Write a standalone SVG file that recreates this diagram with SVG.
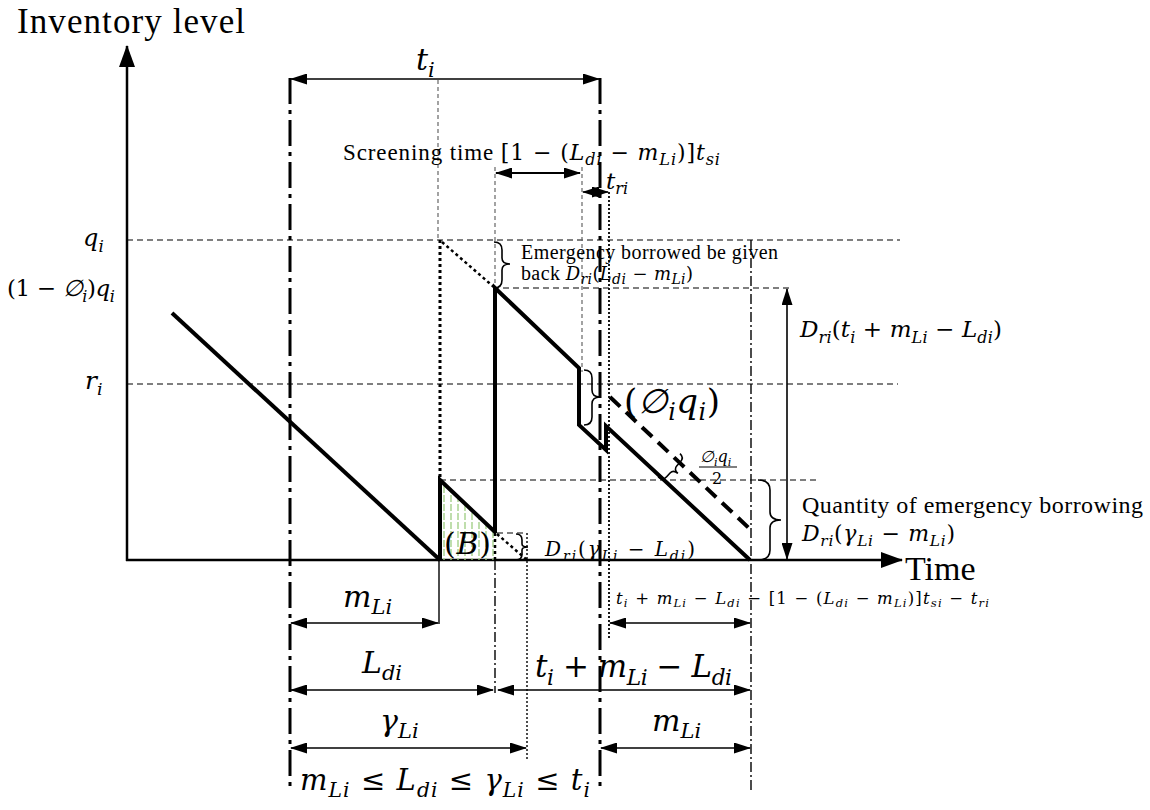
<svg xmlns="http://www.w3.org/2000/svg" width="1150" height="810" viewBox="0 0 1150 810">
<defs>
<style>
text{font-family:"Liberation Serif","Times New Roman",serif;fill:#000}
.m{font-family:"DejaVu Serif","Liberation Serif",serif}
.it{font-style:italic}
.sb{font-size:70%;font-style:italic}
.ax{stroke:#000;stroke-width:2.5;fill:none}
.th{stroke:#000;stroke-width:4;fill:none;stroke-linejoin:miter}
.dd{stroke:#000;stroke-width:3;stroke-dasharray:26 6 4 6;fill:none}
.ddt{stroke:#000;stroke-width:1.4;stroke-dasharray:10 3 2 3;fill:none}
.hd{stroke:#000;stroke-width:1.2;stroke-dasharray:6 4;fill:none}
.vd{stroke:#666;stroke-width:1.2;stroke-dasharray:4 3;fill:none}
.dot{stroke:#000;stroke-width:1.4;stroke-dasharray:2 2;fill:none}
.tdot{stroke:#000;stroke-width:3;stroke-dasharray:3 3;fill:none}
.dim{stroke:#000;stroke-width:1.6;fill:none;marker-start:url(#ah);marker-end:url(#ah)}
.br{stroke:#000;stroke-width:1.6;fill:none}
</style>
<marker id="ah" viewBox="0 0 17 11" refX="16" refY="5.5" markerWidth="17" markerHeight="11" markerUnits="userSpaceOnUse" orient="auto-start-reverse"><path d="M0,0L17,5.5L0,11z"/></marker>
<marker id="axh" viewBox="0 0 22 16" refX="21" refY="8" markerWidth="22" markerHeight="16" markerUnits="userSpaceOnUse" orient="auto"><path d="M0,0L22,8L0,16z"/></marker>
<pattern id="hatch" width="7" height="9" patternUnits="userSpaceOnUse"><line x1="3" y1="0" x2="3" y2="7" stroke="#9ccc80" stroke-width="1.3"/></pattern>
</defs>

<g id="guides">
<line class="hd" x1="127" y1="240" x2="900" y2="240"/>
<line class="hd" x1="493" y1="288" x2="793" y2="288"/>
<line class="hd" x1="127" y1="384" x2="898" y2="384"/>
<line class="hd" x1="440" y1="480" x2="818" y2="480"/>
<line class="hd" x1="497" y1="533" x2="527" y2="533"/>
<line class="vd" x1="438" y1="80" x2="438" y2="240"/>
<line class="vd" x1="495" y1="167" x2="495" y2="288"/>
<line class="vd" x1="582" y1="167" x2="582" y2="372"/>
<line class="dot" x1="609" y1="192" x2="609" y2="640" style="stroke-width:1.8"/>
<line class="ddt" x1="751" y1="240" x2="751" y2="790"/>
<line class="ddt" x1="495" y1="560" x2="495" y2="693"/>
<line class="dot" x1="527" y1="533" x2="527" y2="760"/>
<line stroke="#000" stroke-width="1.4" x1="439" y1="560" x2="439" y2="624"/>
<line class="dd" x1="290" y1="78" x2="290" y2="790"/>
<line class="dd" x1="600" y1="78" x2="600" y2="790"/>
</g>

<g id="axes">
<line class="ax" x1="127" y1="561" x2="127" y2="46" marker-end="url(#axh)"/>
<line class="ax" x1="126" y1="560" x2="902" y2="560" marker-end="url(#axh)"/>
</g>

<g id="inventory">
<polygon points="440,480 495,532 495,560 440,560" fill="url(#hatch)"/>
<line class="th" x1="172" y1="313" x2="440" y2="560"/>
<path class="th" d="M440,560 L440,480 L495,532"/>
<path class="th" d="M495,533 L495,288 L579,368 L579,425 L606,450 L606,426 L750,560"/>
<line class="tdot" x1="440" y1="240" x2="440" y2="480"/>
<line class="tdot" x1="442" y1="242" x2="495" y2="288" style="stroke-width:2.5"/>
<line class="tdot" x1="495" y1="533" x2="495" y2="560" style="stroke-width:2.5"/>
<line class="tdot" x1="497" y1="534" x2="527" y2="560" style="stroke-width:2.5"/>
<line stroke="#000" stroke-width="4" stroke-dasharray="14 8" x1="610" y1="397" x2="752" y2="531"/>
</g>

<g id="braces">
<path class="br" d="M494,242 Q502,242 502,250 L502,258 Q502,264 510,264 Q502,264 502,270 L502,280 Q502,288 494,288"/>
<path class="br" d="M584,370 Q592,370 592,378 L592,390 Q592,397 600,397 Q592,397 592,404 L592,417 Q592,425 584,425"/>
<path class="br" transform="translate(672,468) rotate(43)" d="M-4,-16 Q2,-16 2,-10 L2,-5 Q2,0 8,0 Q2,0 2,5 L2,10 Q2,16 -4,16"/>
<path class="br" d="M758,480 Q770,480 770,490 L770,512 Q770,520 781,520 Q770,520 770,528 L770,550 Q770,560 758,560"/>
<path class="br" d="M516,534 Q522,534 522,540 L522,544 Q522,547 528,547 Q522,547 522,550 L522,554 Q522,560 516,560"/>
</g>

<g id="dimensions">
<line class="dim" x1="291" y1="79" x2="599" y2="79"/>
<line class="dim" x1="496" y1="173" x2="580" y2="173" style="stroke-width:2.2"/>
<line class="dim" x1="583" y1="192" x2="608" y2="192" style="stroke-width:1.4"/>
<line class="dim" x1="787" y1="289" x2="787" y2="559"/>
<line class="dim" x1="291" y1="623" x2="438" y2="623"/>
<line class="dim" x1="610" y1="623" x2="750" y2="623"/>
<line class="dim" x1="291" y1="690" x2="493" y2="690"/>
<line class="dim" x1="498" y1="690" x2="750" y2="690"/>
<line class="dim" x1="291" y1="748" x2="526" y2="748"/>
<line class="dim" x1="601" y1="748" x2="750" y2="748"/>
</g>

<g id="labels">
<text x="17" y="33" font-size="35" textLength="228" lengthAdjust="spacing">Inventory level</text>
<text x="905" y="580" font-size="34">Time</text>
<text class="m" x="83" y="246" font-size="24"><tspan class="it">q</tspan><tspan class="sb" dy="6">i</tspan></text>
<text class="m" x="7" y="296" font-size="23" textLength="108" lengthAdjust="spacing">(1 − <tspan class="it">∅</tspan><tspan class="sb" dy="6">i</tspan><tspan dy="-6">)</tspan><tspan class="it">q</tspan><tspan class="sb" dy="6">i</tspan></text>
<text class="m" x="85" y="389" font-size="25"><tspan class="it">r</tspan><tspan class="sb" dy="6">i</tspan></text>
<text class="m" x="416" y="70" font-size="30"><tspan class="it">t</tspan><tspan class="sb" dy="7">i</tspan></text>
<text x="343" y="160" font-size="23" textLength="377" lengthAdjust="spacing">Screening time <tspan class="m" font-size="22">[1 − (</tspan><tspan class="m it" font-size="22">L</tspan><tspan class="m sb" font-size="15" dy="5">di</tspan><tspan class="m" font-size="22" dy="-5"> − </tspan><tspan class="m it" font-size="22">m</tspan><tspan class="m sb" font-size="15" dy="5">Li</tspan><tspan class="m" font-size="22" dy="-5">)]</tspan><tspan class="m it" font-size="22">t</tspan><tspan class="m sb" font-size="15" dy="5">si</tspan></text>
<text class="m" x="606" y="189" font-size="23"><tspan class="it">t</tspan><tspan class="sb" dy="5">ri</tspan></text>
<text x="521" y="259" font-size="20" textLength="257" lengthAdjust="spacing">Emergency borrowed be given</text>
<text x="521" y="280" font-size="20" textLength="172" lengthAdjust="spacing">back <tspan class="m it" font-size="18">D</tspan><tspan class="m sb" font-size="13" dy="4">ri</tspan><tspan class="m" dy="-4" font-size="18">(</tspan><tspan class="m it" font-size="18">L</tspan><tspan class="m sb" font-size="13" dy="4">di</tspan><tspan class="m" dy="-4" font-size="18"> − </tspan><tspan class="m it" font-size="18">m</tspan><tspan class="m sb" font-size="13" dy="4">Li</tspan><tspan class="m" dy="-4" font-size="18">)</tspan></text>
<text class="m" x="800" y="337" font-size="23" textLength="202" lengthAdjust="spacing"><tspan class="it">D</tspan><tspan class="sb" dy="6">ri</tspan><tspan dy="-6">(</tspan><tspan class="it">t</tspan><tspan class="sb" dy="6">i</tspan><tspan dy="-6"> + </tspan><tspan class="it">m</tspan><tspan class="sb" dy="6">Li</tspan><tspan dy="-6"> − </tspan><tspan class="it">L</tspan><tspan class="sb" dy="6">di</tspan><tspan dy="-6">)</tspan></text>
<text class="m" x="624" y="413" font-size="34" textLength="96" lengthAdjust="spacing"><tspan>(</tspan><tspan class="it">∅</tspan><tspan class="sb" dy="7">i</tspan><tspan class="it" dy="-7">q</tspan><tspan class="sb" dy="7">i</tspan><tspan dy="-7">)</tspan></text>
<text class="m" x="700" y="462" font-size="16"><tspan class="it">∅</tspan><tspan class="sb" dy="4">i</tspan><tspan class="it" dy="-4">q</tspan><tspan class="sb" dy="4">i</tspan></text>
<line x1="699" y1="467" x2="737" y2="467" stroke="#000" stroke-width="1.2"/>
<text class="m" x="712" y="484" font-size="16">2</text>
<text x="802" y="513" font-size="24" textLength="341" lengthAdjust="spacing">Quantity of emergency borrowing</text>
<text class="m" x="802" y="541" font-size="22" textLength="153" lengthAdjust="spacing"><tspan class="it">D</tspan><tspan class="sb" dy="5">ri</tspan><tspan dy="-5">(</tspan><tspan class="it">γ</tspan><tspan class="sb" dy="5">Li</tspan><tspan dy="-5"> − </tspan><tspan class="it">m</tspan><tspan class="sb" dy="5">Li</tspan><tspan dy="-5">)</tspan></text>
<text class="m" x="444" y="554" font-size="30" textLength="47" lengthAdjust="spacing">(<tspan class="it">B</tspan>)</text>
<text class="m" x="545" y="556" font-size="20" textLength="150" lengthAdjust="spacing"><tspan class="it">D</tspan><tspan class="sb" dy="5">ri</tspan><tspan dy="-5">(</tspan><tspan class="it">γ</tspan><tspan class="sb" dy="5">Li</tspan><tspan dy="-5"> − </tspan><tspan class="it">L</tspan><tspan class="sb" dy="5">di</tspan><tspan dy="-5">)</tspan></text>
<text class="m" x="343" y="607" font-size="30"><tspan class="it">m</tspan><tspan class="sb" dy="7">Li</tspan></text>
<text class="m" x="616" y="604" font-size="16.5" textLength="373" lengthAdjust="spacing"><tspan class="it">t</tspan><tspan class="sb" dy="3">i</tspan><tspan dy="-3"> + </tspan><tspan class="it">m</tspan><tspan class="sb" dy="3">Li</tspan><tspan dy="-3"> − </tspan><tspan class="it">L</tspan><tspan class="sb" dy="3">di</tspan><tspan dy="-3"> − [1 − (</tspan><tspan class="it">L</tspan><tspan class="sb" dy="3">di</tspan><tspan dy="-3"> − </tspan><tspan class="it">m</tspan><tspan class="sb" dy="3">Li</tspan><tspan dy="-3">)]</tspan><tspan class="it">t</tspan><tspan class="sb" dy="3">si</tspan><tspan dy="-3"> − </tspan><tspan class="it">t</tspan><tspan class="sb" dy="3">ri</tspan></text>
<text class="m" x="362" y="673" font-size="30"><tspan class="it">L</tspan><tspan class="sb" dy="7">di</tspan></text>
<text class="m" x="535" y="677" font-size="31" textLength="197" lengthAdjust="spacing"><tspan class="it">t</tspan><tspan class="sb" dy="8">i</tspan><tspan dy="-8"> + </tspan><tspan class="it">m</tspan><tspan class="sb" dy="8">Li</tspan><tspan dy="-8"> − </tspan><tspan class="it">L</tspan><tspan class="sb" dy="8">di</tspan></text>
<text class="m" x="380" y="731" font-size="30"><tspan class="it">γ</tspan><tspan class="sb" dy="7">Li</tspan></text>
<text class="m" x="652" y="731" font-size="30"><tspan class="it">m</tspan><tspan class="sb" dy="7">Li</tspan></text>
<text class="m" x="300" y="790" font-size="29" textLength="290" lengthAdjust="spacing"><tspan class="it">m</tspan><tspan class="sb" dy="7">Li</tspan><tspan dy="-7"> ≤ </tspan><tspan class="it">L</tspan><tspan class="sb" dy="7">di</tspan><tspan dy="-7"> ≤ </tspan><tspan class="it">γ</tspan><tspan class="sb" dy="7">Li</tspan><tspan dy="-7"> ≤ </tspan><tspan class="it">t</tspan><tspan class="sb" dy="7">i</tspan></text>
</g>
</svg>
